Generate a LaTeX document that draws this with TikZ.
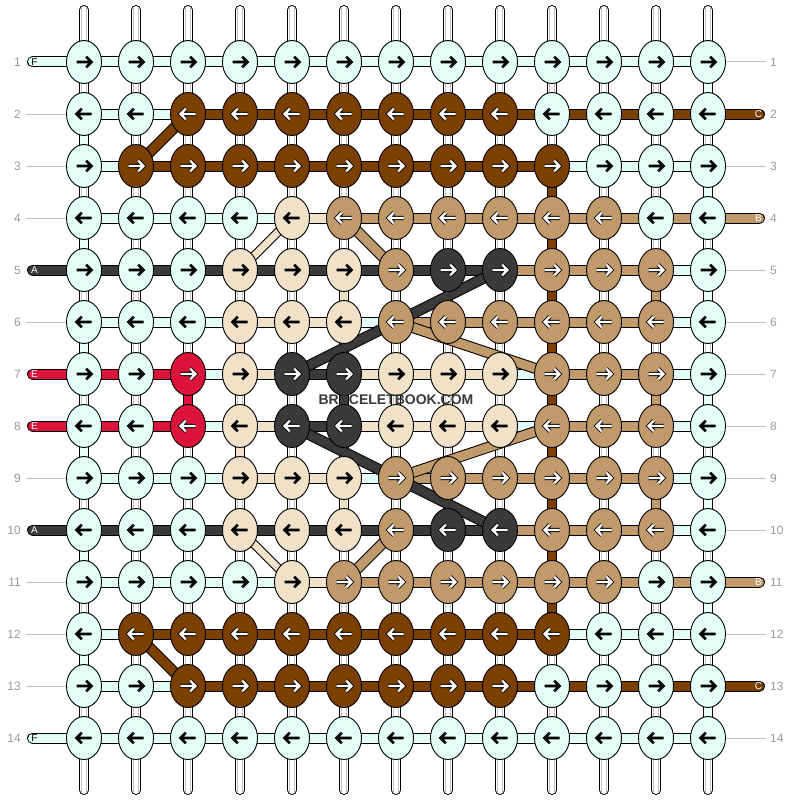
\documentclass[tikz,border=0pt]{standalone}
\usepackage{fontspec}
\setmainfont{Liberation Sans}
\usetikzlibrary{shapes.geometric}
\definecolor{colW}{HTML}{E3FFF7}
\definecolor{colC}{HTML}{7B3F00}
\definecolor{colB}{HTML}{C19A6B}
\definecolor{colD}{HTML}{F0E1C8}
\definecolor{colA}{HTML}{3A3A3A}
\definecolor{colE}{HTML}{DC143C}
\definecolor{numgray}{HTML}{999999}
\definecolor{linegray}{HTML}{C0C0C0}
\definecolor{stripegray}{HTML}{C4C4C4}
\begin{document}
\begin{tikzpicture}[x=1pt,y=-1pt,
  knot/.style={ellipse, draw=black, line width=0.9pt, minimum width=35pt, minimum height=43pt, inner sep=0pt},
  hout/.style={line width=11pt, draw=black},
  hin/.style={line width=9pt},
  vout/.style={line width=10pt, draw=black},
  vin/.style={line width=8pt},
  stripe/.style={draw=stripegray, line width=0.8pt},
  numlabel/.style={text=numgray, font=\fontsize{12}{12}\selectfont, inner sep=0pt},
  endlabel/.style={font=\fontsize{10}{10}\selectfont, inner sep=0pt},
  guide/.style={draw=linegray, line width=1pt}]
\useasboundingbox (0,0) rectangle (792,800);
\fill[white] (0,0) rectangle (792,800);
% grid coordinates
\foreach \r in {1,...,14}{
  \foreach \c in {1,...,13}{
    \coordinate (p-\r-\c) at ({32+52*\c},{10+52*\r});
  }
}
\foreach \c in {1,...,13}{
  \coordinate (t-\c) at ({32+52*\c},10);
  \coordinate (b-\c) at ({32+52*\c},790);
}
% top and bottom strands
\foreach \c in {1,...,13}{
  \draw[vout,line cap=round] (t-\c) -- (p-1-\c);
  \draw[vin,white,line cap=round] (t-\c) -- (p-1-\c);
  \draw[stripe] ([xshift=-2.3pt,yshift=2pt]t-\c) -- ([xshift=-2.3pt]p-1-\c);
  \draw[stripe] ([xshift=2.3pt,yshift=2pt]t-\c) -- ([xshift=2.3pt]p-1-\c);
  \draw[vout,line cap=round] (p-14-\c) -- (b-\c);
  \draw[vin,white,line cap=round] (p-14-\c) -- (b-\c);
  \draw[stripe] ([xshift=-2.3pt]p-14-\c) -- ([xshift=-2.3pt,yshift=-2pt]b-\c);
  \draw[stripe] ([xshift=2.3pt]p-14-\c) -- ([xshift=2.3pt,yshift=-2pt]b-\c);
}
% vertical segments between rows
\foreach \row [count=\g] in {
 {S,S,S,S,S,S,S,S,S,S,S,S,W},
 {W,S,S,S,S,S,S,S,S,S,S,S,S},
 {S,S,S,S,S,S,S,S,S,C,S,S,W},
 {W,S,S,S,S,S,S,S,S,C,S,S,S},
 {S,S,S,S,S,D,S,S,S,C,S,B,W},
 {W,S,S,D,S,S,S,S,S,C,S,S,S},
 {S,S,E,S,S,A,S,S,S,C,S,B,W},
 {W,S,S,D,S,S,S,S,S,C,S,S,S},
 {S,S,S,S,S,D,S,S,S,C,S,B,W},
 {W,S,S,S,S,S,S,S,S,C,S,S,S},
 {S,S,S,S,S,S,S,S,S,C,S,S,W},
 {W,S,S,S,S,S,S,S,S,S,S,S,S},
 {S,S,S,S,S,S,S,S,S,S,S,S,W}}{
  \pgfmathtruncatemacro\gn{\g+1}
  \foreach \k [count=\c] in \row {
    \draw[vout] (p-\g-\c) -- (p-\gn-\c);
    \if S\k
      \draw[vin,white] (p-\g-\c) -- (p-\gn-\c);
      \draw[stripe] ([xshift=-2.3pt]p-\g-\c) -- ([xshift=-2.3pt]p-\gn-\c);
      \draw[stripe] ([xshift=2.3pt]p-\g-\c) -- ([xshift=2.3pt]p-\gn-\c);
    \else
      \draw[vin,color=col\k] (p-\g-\c) -- (p-\gn-\c);
    \fi
  }
}
% horizontal segments
\foreach \row [count=\r] in {
 {W,W,W,W,W,W,W,W,W,W,W,W},
 {W,W,C,C,C,C,C,C,C,C,C,C},
 {W,C,C,C,C,C,C,C,C,W,W,W},
 {W,W,W,W,D,B,B,B,B,B,B,B},
 {A,A,A,A,A,A,A,A,B,B,B,W},
 {W,W,W,D,D,W,B,B,B,B,B,W},
 {E,E,W,D,A,D,D,D,W,B,B,W},
 {E,E,W,D,A,D,D,D,W,B,B,W},
 {W,W,W,D,D,W,B,B,B,B,B,W},
 {A,A,A,A,A,A,A,A,B,B,B,W},
 {W,W,W,W,D,B,B,B,B,B,B,B},
 {W,C,C,C,C,C,C,C,C,W,W,W},
 {W,W,C,C,C,C,C,C,C,C,C,C},
 {W,W,W,W,W,W,W,W,W,W,W,W}}{
  \foreach \k [count=\c] in \row {
    \pgfmathtruncatemacro\cn{\c+1}
    \draw[hout] (p-\r-\c) -- (p-\r-\cn);
    \draw[hin,color=col\k] (p-\r-\c) -- (p-\r-\cn);
  }
}
% left string ends
\foreach \r/\k/\lt/\lc in {1/W/F/black,5/A/A/white,7/E/E/white,8/E/E/white,10/A/A/white,14/W/F/black}{
  \coordinate (le-\r) at (32.5,{10+52*\r});
  \draw[hout,line cap=round] (le-\r) -- (p-\r-1);
  \draw[hin,line cap=round,color=col\k] (le-\r) -- (p-\r-1);
  \node[endlabel,text=\lc] (lt-\r) at (34.5,{10+52*\r}) {\lt};
}
% right string ends
\foreach \r/\k/\lt in {2/C/C,4/B/B,11/B/B,13/C/C}{
  \coordinate (re-\r) at (759.5,{10+52*\r});
  \draw[hout,line cap=round] (p-\r-13) -- (re-\r);
  \draw[hin,line cap=round,color=col\k] (p-\r-13) -- (re-\r);
  \node[endlabel,text=white] (rt-\r) at (758.5,{10+52*\r}) {\lt};
}
% guide lines
\foreach \r in {2,3,4,6,9,11,12,13}{
  \coordinate (lg-\r) at (26,{10+52*\r});
  \draw[guide] (lg-\r) -- (p-\r-1);
}
\foreach \r in {1,3,5,6,7,8,9,10,12,14}{
  \coordinate (rg-\r) at (766,{10+52*\r});
  \draw[guide] (p-\r-13) -- (rg-\r);
}
% row numbers
\foreach \r in {1,...,14}{
  \node[numlabel,anchor=east] (nl-\r) at (21,{10+52*\r}) {\r};
  \node[numlabel,anchor=west] (nr-\r) at (770,{10+52*\r}) {\r};
}
% diagonal strings
\foreach \a/\b/\k in {2-3/3-2/C,4-6/5-7/B,5-9/7-5/A,6-7/7-10/B,8-5/10-9/A,9-7/8-10/B,10-7/11-6/B,12-2/13-3/C}{
  \draw[hout] (p-\a) -- (p-\b);
  \draw[hin,color=col\k] (p-\a) -- (p-\b);
}
\foreach \a/\b in {4-5/5-4,10-4/11-5}{
  \draw[line width=9pt,draw=black] (p-\a) -- (p-\b);
  \draw[line width=7pt,color=colD] (p-\a) -- (p-\b);
}
% knots
\foreach \row [count=\r] in {
 {W,W,W,W,W,W,W,W,W,W,W,W,W},
 {W,W,C,C,C,C,C,C,C,W,W,W,W},
 {W,C,C,C,C,C,C,C,C,C,W,W,W},
 {W,W,W,W,D,B,B,B,B,B,B,W,W},
 {W,W,W,D,D,D,B,A,A,B,B,B,W},
 {W,W,W,D,D,D,B,B,B,B,B,B,W},
 {W,W,E,D,A,A,D,D,D,B,B,B,W},
 {W,W,E,D,A,A,D,D,D,B,B,B,W},
 {W,W,W,D,D,D,B,B,B,B,B,B,W},
 {W,W,W,D,D,D,B,A,A,B,B,B,W},
 {W,W,W,W,D,B,B,B,B,B,B,W,W},
 {W,C,C,C,C,C,C,C,C,C,W,W,W},
 {W,W,C,C,C,C,C,C,C,W,W,W,W},
 {W,W,W,W,W,W,W,W,W,W,W,W,W}}{
  \foreach \k [count=\c] in \row {
    \node[knot,fill=col\k] (k-\r-\c) at (p-\r-\c) {};
    \pgfmathsetmacro\X{32+52*\c}
    \pgfmathsetmacro\Y{10+52*\r}
    \pgfmathsetmacro\d{1-2*mod(\r+1,2)}
    \pgfmathsetmacro\xa{\X-7.5*(\d)}
    \pgfmathsetmacro\xb{\X+7.5*(\d)}
    \pgfmathsetmacro\xh{\X+2.2*(\d)}
    \pgfmathsetmacro\ya{\Y-5.3}
    \pgfmathsetmacro\yb{\Y+5.3}
    \def\ac{1}
    \if W\k \def\ac{0}\fi
    \if D\k \def\ac{0}\fi
    \ifnum\ac=1
      \draw[black,line width=4.2pt,line cap=square,line join=miter] (\xa,\Y) -- (\xb,\Y) (\xh,\ya) -- (\xb,\Y) -- (\xh,\yb);
      \draw[white,line width=2.2pt,line join=miter] (\xa,\Y) -- (\xb,\Y) (\xh,\ya) -- (\xb,\Y) -- (\xh,\yb);
    \else
      \draw[black,line width=2.6pt,line join=miter] (\xa,\Y) -- (\xb,\Y) (\xh,\ya) -- (\xb,\Y) -- (\xh,\yb);
    \fi
  }
}
% watermark
\node[font=\bfseries\fontsize{14}{14}\selectfont,text=colA,inner sep=0pt] (wm) at (396,400) {BRACELETBOOK.COM};
\end{tikzpicture}
\end{document}
